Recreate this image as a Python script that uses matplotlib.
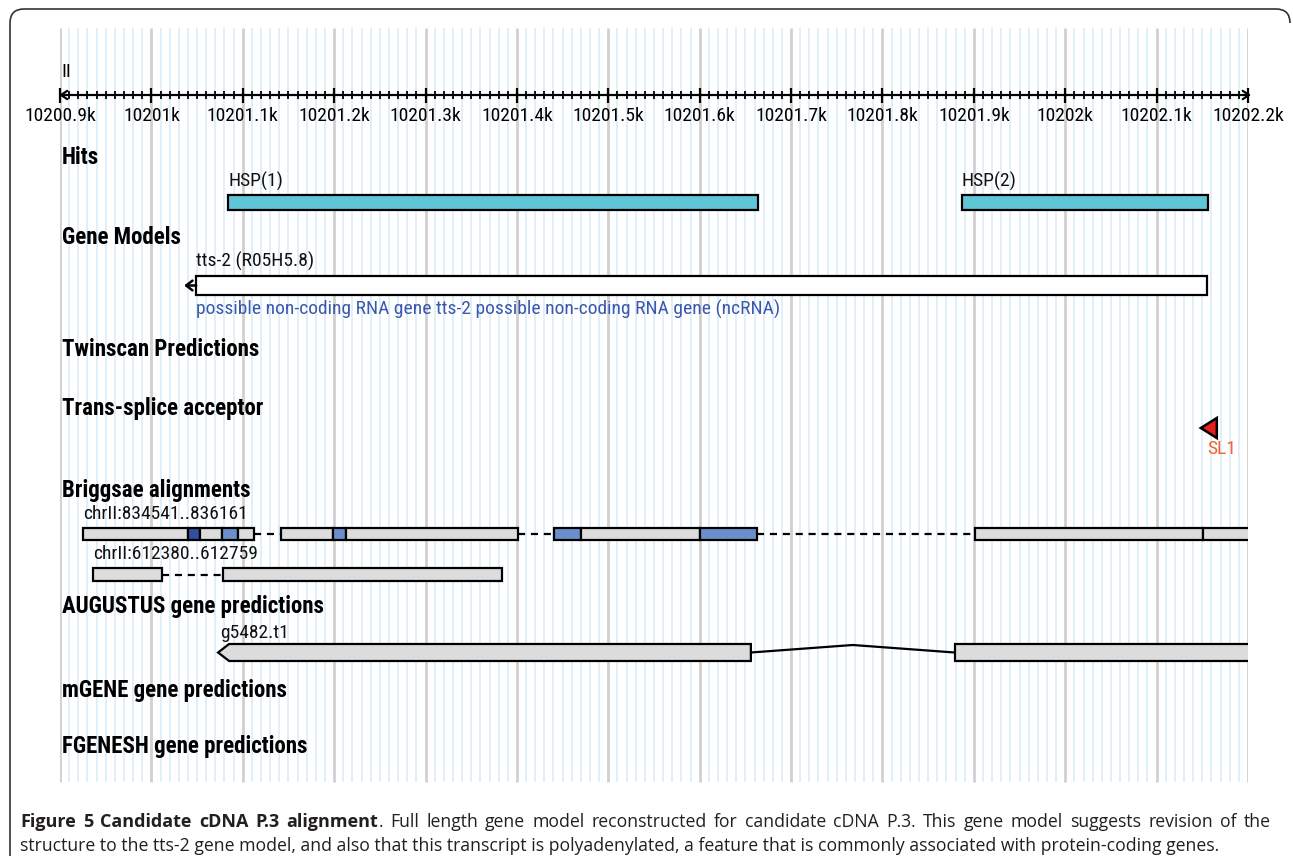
import numpy as np
import matplotlib
matplotlib.use("Agg")
import matplotlib.pyplot as plt
from matplotlib import font_manager
from matplotlib.patches import Rectangle, Polygon, PathPatch
from matplotlib.path import Path

# ---------------- data ----------------
axis_start = 10200900
axis_end = 10202200
major_ticks = list(range(10200900, 10202201, 100))
minor_ticks = list(range(10200900, 10202201, 10))
tick_labels = ['10200.9k', '10201k', '10201.1k', '10201.2k', '10201.3k', '10201.4k',
               '10201.5k', '10201.6k', '10201.7k', '10201.8k', '10201.9k', '10202k',
               '10202.1k', '10202.2k']
chrom_label = 'II'

track_names = ['Hits', 'Gene Models', 'Twinscan Predictions', 'Trans-splice acceptor',
               'Briggsae alignments', 'AUGUSTUS gene predictions', 'mGENE gene predictions',
               'FGENESH gene predictions']

hsp_names = ['HSP(1)', 'HSP(2)']
hsp_start = [10201084, 10201887]
hsp_end = [10201664, 10202156]

gene_name = 'tts-2 (R05H5.8)'
gene_start = 10201049
gene_end = 10202155
gene_note = 'possible non-coding RNA gene tts-2 possible non-coding RNA gene (ncRNA)'

sl1_name = 'SL1'
sl1_pos = 10202158

brig1_name = 'chrII:834541..836161'
brig1_seg_start = [10200925, 10201040, 10201053, 10201077, 10201095,
                   10201142, 10201199, 10201213,
                   10201441, 10201470, 10201600,
                   10201901, 10202151]
brig1_seg_end = [10201040, 10201053, 10201077, 10201095, 10201112,
                 10201199, 10201213, 10201401,
                 10201470, 10201600, 10201663,
                 10202151, 10202260]
brig1_seg_kind = ['none', 'strong', 'none', 'medium', 'none',
                  'none', 'medium', 'none',
                  'medium', 'none', 'medium',
                  'none', 'none']

brig2_name = 'chrII:612380..612759'
brig2_start = [10200936, 10201078]
brig2_end = [10201012, 10201384]

aug_name = 'g5482.t1'
aug_start = [10201073, 10201879]
aug_end = [10201656, 10202260]

caption_bold = 'Figure 5 Candidate cDNA P.3 alignment'
caption_rest = ('. Full length gene model reconstructed for candidate cDNA P.3. '
                'This gene model suggests revision of the')
caption_line2 = ('structure to the tts-2 gene model, and also that this transcript is polyadenylated, '
                 'a feature that is commonly associated with protein-coding genes.')

# ---------------- fonts ----------------
names = {f.name for f in font_manager.fontManager.ttflist}
cond_by_family = {f.name for f in font_manager.fontManager.ttflist
                  if str(f.stretch) in ('condensed', 'semi-condensed', 'extra-condensed', '75', '87.5')}
NARROW_FAM, STRETCH, LAB_SIZE, BOLD_SIZE = None, 'normal', 14, 16.5
for cand in ['Liberation Sans Narrow', 'Arial Narrow', 'Nimbus Sans Narrow', 'Roboto Condensed',
             'Open Sans Condensed', 'Noto Sans Condensed']:
    if cand in names:
        NARROW_FAM = cand
        break
if NARROW_FAM is None:
    for cand in ['Roboto', 'Noto Sans', 'Open Sans']:
        if cand in cond_by_family:
            NARROW_FAM, STRETCH = cand, 'condensed'
            LAB_SIZE, BOLD_SIZE = 13.5, 16
            break
if NARROW_FAM is None:
    NARROW_FAM = 'Liberation Sans'
    LAB_SIZE, BOLD_SIZE = 12.4, 14.6
NARROW = [NARROW_FAM, 'DejaVu Sans']
CAPF = ['Open Sans', 'DejaVu Sans']

# ---------------- style ----------------
W, H = 1293, 858
kind_color = {'none': '#dcdcdc', 'strong': '#2f4f9f', 'medium': '#6b8fcc'}
hsp_color = '#5ec6d6'
edge_lw = 1.6
lab_kw = dict(fontsize=LAB_SIZE, family=NARROW, stretch=STRETCH)

fig = plt.figure(figsize=(W / 100, H / 100), dpi=100)
fig.patch.set_facecolor('white')
x_left_px, x_right_px = 60, 1248
ax = fig.add_axes([x_left_px / W, 0, (x_right_px - x_left_px) / W, 1])
ax.set_xlim(axis_start, axis_end)
ax.set_ylim(H, 0)
ax.axis('off')

bp_per_px = (axis_end - axis_start) / (x_right_px - x_left_px)

# grid lines
ax.vlines([t for t in minor_ticks if t not in major_ticks], 28, 782, color='#d9eef9', lw=1.2, zorder=0)
ax.vlines(major_ticks, 28, 782, color='#d0d0d0', lw=2.0, zorder=0)

# ruler
ax_y = 95
ax.annotate('', xy=(axis_start - 1 * bp_per_px, ax_y), xytext=(axis_end + 3 * bp_per_px, ax_y),
            arrowprops=dict(arrowstyle='<->,head_length=0.45,head_width=0.3', lw=1.6, color='black',
                            shrinkA=0, shrinkB=0), annotation_clip=False)
ax.vlines(minor_ticks, ax_y - 4, ax_y + 4, color='black', lw=1.3, clip_on=False)
ax.vlines(major_ticks, ax_y - 7.5, ax_y + 7.5, color='black', lw=1.6, clip_on=False)
for t, lab in zip(major_ticks, tick_labels):
    ax.text(t, 116, lab, ha='center', va='center', clip_on=False, **lab_kw)
ax.text(axis_start + 1 * bp_per_px, 72, chrom_label, ha='left', va='center', clip_on=False, **lab_kw)

# track labels
track_y = [157, 237, 349, 408, 490, 606, 690, 747]
for name, y in zip(track_names, track_y):
    ax.text(axis_start + 2 * bp_per_px, y, name, ha='left', va='center', fontsize=BOLD_SIZE,
            fontweight='bold', family=NARROW, stretch=STRETCH, clip_on=False)


def box(s, e, top, bottom, fc, z=3):
    ax.add_patch(Rectangle((s, top), e - s, bottom - top, facecolor=fc, edgecolor='black',
                           lw=edge_lw, joinstyle='miter', zorder=z))


# hits
for n, s, e in zip(hsp_names, hsp_start, hsp_end):
    ax.text(s, 181, n, ha='left', va='center', color='#111111', **lab_kw)
    box(s, e, 195, 210, hsp_color)

# gene model
ax.text(gene_start, 261, gene_name, ha='left', va='center', color='#111111', **lab_kw)
box(gene_start, gene_end, 276, 295, 'white')
ax.annotate('', xy=(gene_start - 12 * bp_per_px, 285.5), xytext=(gene_start, 285.5),
            arrowprops=dict(arrowstyle='->,head_length=0.45,head_width=0.35', lw=1.8, color='black',
                            shrinkA=0, shrinkB=0), annotation_clip=False)
ax.text(gene_start, 309, gene_note, ha='left', va='center', color='#3a58ad', **lab_kw)

# SL1
tri_w = 16 * bp_per_px
ax.add_patch(Polygon([(sl1_pos - tri_w * 0.55, 428), (sl1_pos + tri_w * 0.45, 418),
                      (sl1_pos + tri_w * 0.45, 438)], closed=True, facecolor='#e3201b',
                     edgecolor='black', lw=1.8, joinstyle='miter', zorder=4))
ax.text(sl1_pos - 2 * bp_per_px, 449, sl1_name, ha='left', va='center', color='#f2622e', **lab_kw)

# briggsae row 1
ax.text(brig1_seg_start[0], 514, brig1_name, ha='left', va='center', color='#111111', **lab_kw)
for i, (s, e, k) in enumerate(zip(brig1_seg_start, brig1_seg_end, brig1_seg_kind)):
    box(s, e, 528, 540, kind_color[k])
    if i + 1 < len(brig1_seg_start) and brig1_seg_start[i + 1] > e:
        ax.plot([e, brig1_seg_start[i + 1]], [534, 534], color='black', lw=1.6,
                ls=(0, (3.2, 2.6)), zorder=2)

# briggsae row 2
ax.text(brig2_start[0], 554, brig2_name, ha='left', va='center', color='#111111', **lab_kw)
for i, (s, e) in enumerate(zip(brig2_start, brig2_end)):
    box(s, e, 568, 581, kind_color['none'])
    if i + 1 < len(brig2_start):
        ax.plot([e, brig2_start[i + 1]], [574.5, 574.5], color='black', lw=1.6,
                ls=(0, (3.2, 2.6)), zorder=2)

# AUGUSTUS
ax.text(aug_start[0] + 2 * bp_per_px, 633, aug_name, ha='left', va='center', color='#111111', **lab_kw)
tip = 11 * bp_per_px
top, bot = 644, 661
mid = (top + bot) / 2
ax.add_patch(Polygon([(aug_start[0], mid), (aug_start[0] + tip, top), (aug_end[0], top),
                      (aug_end[0], bot), (aug_start[0] + tip, bot)], closed=True,
                     facecolor=kind_color['none'], edgecolor='black', lw=edge_lw,
                     joinstyle='miter', zorder=3))
box(aug_start[1], aug_end[1], top, bot, kind_color['none'])
peak = (aug_end[0] + aug_start[1]) / 2
ax.plot([aug_end[0], peak, aug_start[1]], [mid, top + 1, mid], color='black', lw=1.6, zorder=2)


# ---------------- frame ----------------
def fx(x):
    return x / W


def fy(y):
    return 1 - y / H


r = 14
verts = [(fx(10), fy(856)), (fx(10), fy(9 + r)), (fx(10), fy(9)), (fx(10 + r), fy(9)),
         (fx(1290 - r), fy(9)), (fx(1290), fy(9)), (fx(1290), fy(9 + r))]
codes = [Path.MOVETO, Path.LINETO, Path.CURVE3, Path.CURVE3, Path.LINETO, Path.CURVE3, Path.CURVE3]
fig.add_artist(PathPatch(Path(verts, codes), facecolor='none', edgecolor='#333333', lw=1.2,
                         transform=fig.transFigure))

# ---------------- caption (first line justified) ----------------
cap_color = '#231f20'
cap_size = 12.7
cap_y1, cap_y2 = 822, 846
renderer = fig.canvas.get_renderer()
x0_px, x1_px = 20, 1271
n_bold = len(caption_bold.split(' '))
words = [(w, 'bold') for w in caption_bold.split(' ')]
words += [(w, 'normal') for w in caption_rest.split(' ')]
arts = []
for w, wt in words:
    t = fig.text(0, fy(cap_y1), w, ha='left', va='center', fontsize=cap_size if wt == 'normal' else cap_size + 0.3,
                 fontweight=wt, family=CAPF, color=cap_color)
    arts.append(t)
widths = [a.get_window_extent(renderer=renderer).width for a in arts]
gaps = [0 if i + 1 == n_bold else 1 for i in range(len(words) - 1)]
glue_shift = 0
space = (x1_px - x0_px - sum(widths) - glue_shift) / sum(gaps)
x = x0_px
for i, a in enumerate(arts):
    a.set_x(x / W)
    x += widths[i]
    if i < len(gaps):
        x += space * gaps[i] if gaps[i] else glue_shift
fig.text(fx(20), fy(cap_y2), caption_line2, ha='left', va='center', fontsize=cap_size,
         family=CAPF, color=cap_color)

fig.savefig('out.png', dpi=100)
